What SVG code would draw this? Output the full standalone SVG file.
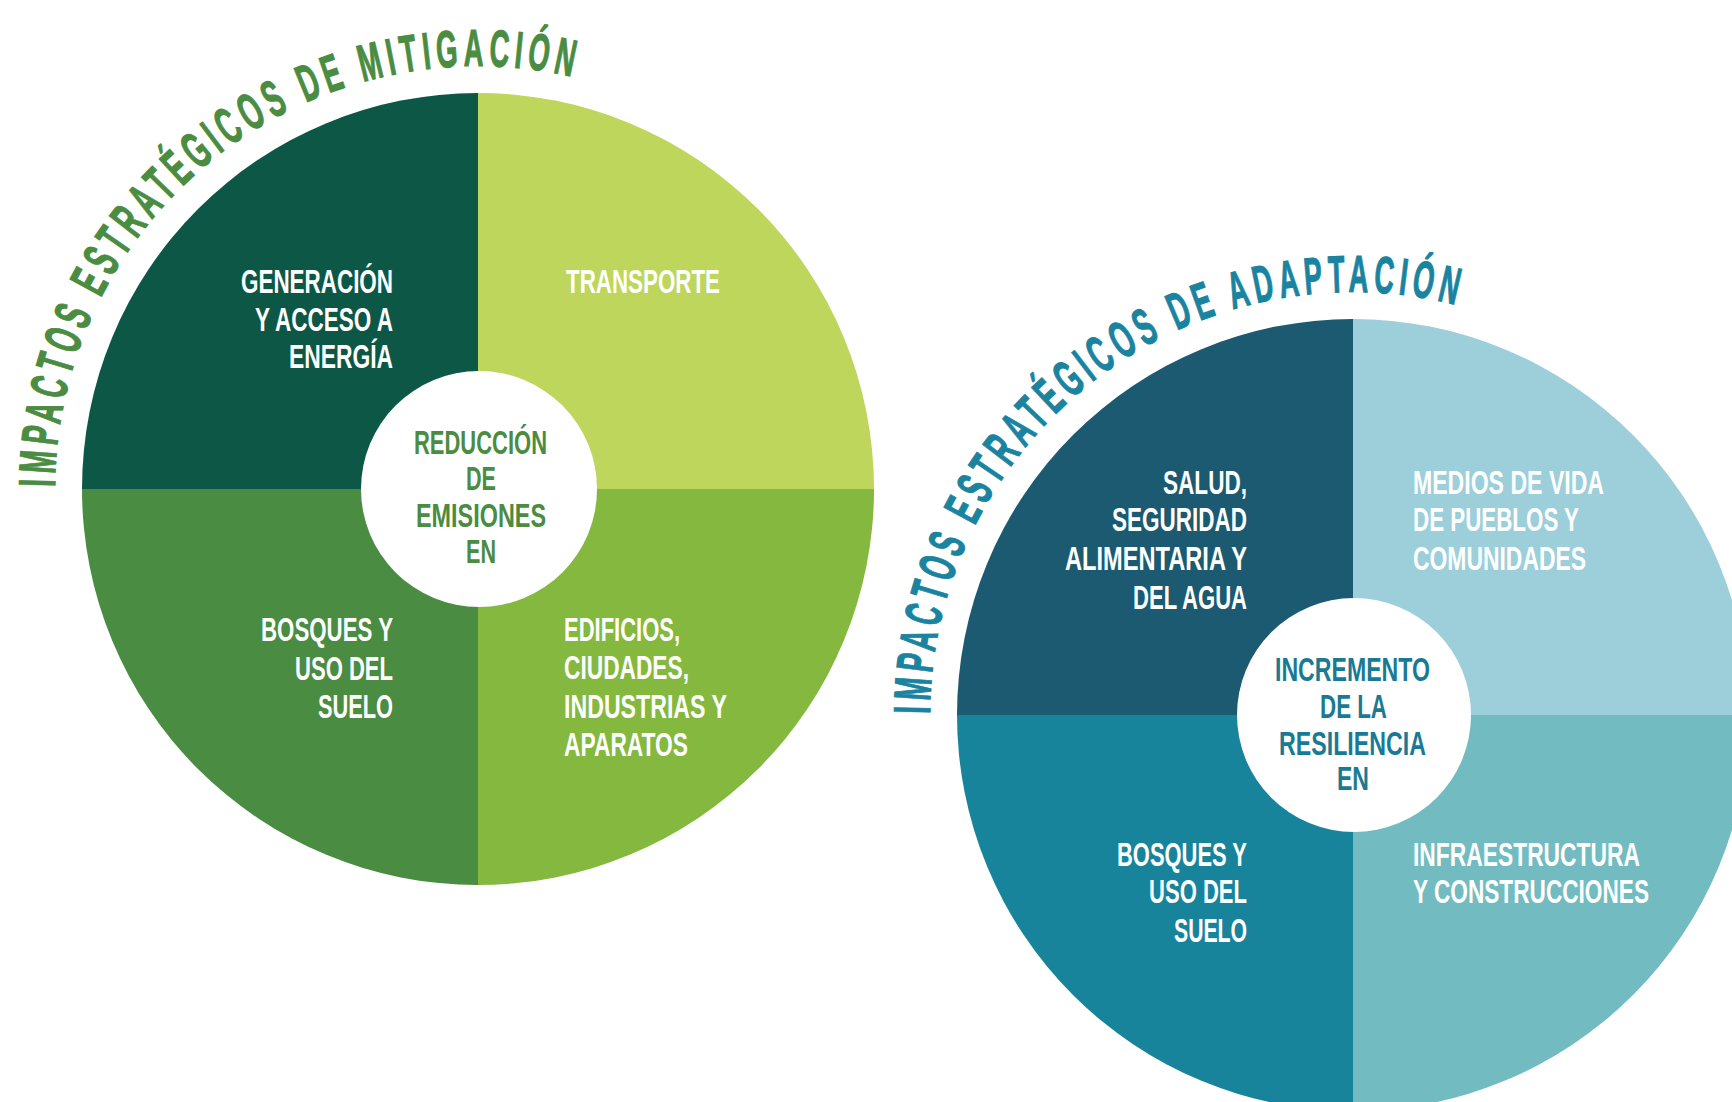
<svg xmlns="http://www.w3.org/2000/svg" width="1732" height="1102" viewBox="0 0 1732 1102">
<style>
.lbl{font-family:"Liberation Sans",Arial,sans-serif;font-weight:700;font-size:33px;fill:#ffffff}
.ttl{font-family:"Liberation Sans",Arial,sans-serif;font-weight:700;font-size:52px;letter-spacing:10px;stroke-width:1.2px}
.gc{fill:#4a8c41}
.tc{fill:#1a7a93}
.inner{fill:#ffffff}
</style>
<defs>
<path id="arcL" d="M55 489 A423 423 0 0 1 689.5 122.7"/>
<path id="arcR" d="M930 715 A423 423 0 0 1 1564.5 348.7"/>
</defs>
<rect width="1732" height="1102" fill="#ffffff"/>

<g id="mitigacion">
  <g id="title-mitigacion">
    <text class="ttl" fill="#4a8c41" stroke="#4a8c41"><textPath href="#arcL" startOffset="2" textLength="762" lengthAdjust="spacingAndGlyphs">IMPACTOS ESTRATÉGICOS DE MITIGACIÓN</textPath></text>
  </g>
  <g id="energia">
    <path d="M478 489 L82 489 A396 396 0 0 1 478 93 Z" fill="#0d5747"/>
    <text class="lbl" x="241" y="293" textLength="152" lengthAdjust="spacingAndGlyphs">GENERACIÓN</text>
    <text class="lbl" x="255" y="331" textLength="138" lengthAdjust="spacingAndGlyphs">Y ACCESO A</text>
    <text class="lbl" x="289" y="368" textLength="104" lengthAdjust="spacingAndGlyphs">ENERGÍA</text>
  </g>
  <g id="transporte">
    <path d="M478 489 L478 93 A396 396 0 0 1 874 489 Z" fill="#bdd65b"/>
    <text class="lbl" x="566" y="293" textLength="154" lengthAdjust="spacingAndGlyphs">TRANSPORTE</text>
  </g>
  <g id="edificios">
    <path d="M478 489 L874 489 A396 396 0 0 1 478 885 Z" fill="#84b83e"/>
    <text class="lbl" x="564" y="641" textLength="116" lengthAdjust="spacingAndGlyphs">EDIFICIOS,</text>
    <text class="lbl" x="564" y="679" textLength="125" lengthAdjust="spacingAndGlyphs">CIUDADES,</text>
    <text class="lbl" x="564" y="718" textLength="163" lengthAdjust="spacingAndGlyphs">INDUSTRIAS Y</text>
    <text class="lbl" x="564" y="756" textLength="124" lengthAdjust="spacingAndGlyphs">APARATOS</text>
  </g>
  <g id="bosques-mitigacion">
    <path d="M478 489 L478 885 A396 396 0 0 1 82 489 Z" fill="#4a8c41"/>
    <text class="lbl" x="261" y="641" textLength="132" lengthAdjust="spacingAndGlyphs">BOSQUES Y</text>
    <text class="lbl" x="295" y="680" textLength="98" lengthAdjust="spacingAndGlyphs">USO DEL</text>
    <text class="lbl" x="318" y="718" textLength="75" lengthAdjust="spacingAndGlyphs">SUELO</text>
  </g>
  <g id="centro-mitigacion">
    <circle class="inner" cx="479" cy="489" r="118"/>
    <text class="lbl gc" x="414" y="454" textLength="133" lengthAdjust="spacingAndGlyphs">REDUCCIÓN</text>
    <text class="lbl gc" x="466" y="490" textLength="30" lengthAdjust="spacingAndGlyphs">DE</text>
    <text class="lbl gc" x="416" y="527" textLength="130" lengthAdjust="spacingAndGlyphs">EMISIONES</text>
    <text class="lbl gc" x="466" y="563" textLength="30" lengthAdjust="spacingAndGlyphs">EN</text>
  </g>
</g>

<g id="adaptacion">
  <g id="title-adaptacion">
    <text class="ttl" fill="#1a84a0" stroke="#1a84a0"><textPath href="#arcR" startOffset="1" textLength="772" lengthAdjust="spacingAndGlyphs">IMPACTOS ESTRATÉGICOS DE ADAPTACIÓN</textPath></text>
  </g>
  <g id="salud">
    <path d="M1353 715 L957 715 A396 396 0 0 1 1353 319 Z" fill="#1b5a70"/>
    <text class="lbl" x="1163" y="494" textLength="84" lengthAdjust="spacingAndGlyphs">SALUD,</text>
    <text class="lbl" x="1112" y="531" textLength="135" lengthAdjust="spacingAndGlyphs">SEGURIDAD</text>
    <text class="lbl" x="1065" y="570" textLength="182" lengthAdjust="spacingAndGlyphs">ALIMENTARIA Y</text>
    <text class="lbl" x="1133" y="609" textLength="114" lengthAdjust="spacingAndGlyphs">DEL AGUA</text>
  </g>
  <g id="medios">
    <path d="M1353 715 L1353 319 A396 396 0 0 1 1749 715 Z" fill="#9ccfda"/>
    <text class="lbl" x="1413" y="494" textLength="191" lengthAdjust="spacingAndGlyphs">MEDIOS DE VIDA</text>
    <text class="lbl" x="1413" y="531" textLength="166" lengthAdjust="spacingAndGlyphs">DE PUEBLOS Y</text>
    <text class="lbl" x="1413" y="570" textLength="173" lengthAdjust="spacingAndGlyphs">COMUNIDADES</text>
  </g>
  <g id="infraestructura">
    <path d="M1353 715 L1749 715 A396 396 0 0 1 1353 1111 Z" fill="#72bcc1"/>
    <text class="lbl" x="1413" y="866" textLength="227" lengthAdjust="spacingAndGlyphs">INFRAESTRUCTURA</text>
    <text class="lbl" x="1413" y="903" textLength="236" lengthAdjust="spacingAndGlyphs">Y CONSTRUCCIONES</text>
  </g>
  <g id="bosques-adaptacion">
    <path d="M1353 715 L1353 1111 A396 396 0 0 1 957 715 Z" fill="#17849b"/>
    <text class="lbl" x="1117" y="866" textLength="130" lengthAdjust="spacingAndGlyphs">BOSQUES Y</text>
    <text class="lbl" x="1149" y="903" textLength="98" lengthAdjust="spacingAndGlyphs">USO DEL</text>
    <text class="lbl" x="1174" y="942" textLength="73" lengthAdjust="spacingAndGlyphs">SUELO</text>
  </g>
  <g id="centro-adaptacion">
    <circle class="inner" cx="1354" cy="715" r="117"/>
    <text class="lbl tc" x="1275" y="681" textLength="155" lengthAdjust="spacingAndGlyphs">INCREMENTO</text>
    <text class="lbl tc" x="1320" y="718" textLength="67" lengthAdjust="spacingAndGlyphs">DE LA</text>
    <text class="lbl tc" x="1279" y="755" textLength="147" lengthAdjust="spacingAndGlyphs">RESILIENCIA</text>
    <text class="lbl tc" x="1337" y="790" textLength="32" lengthAdjust="spacingAndGlyphs">EN</text>
  </g>
</g>
</svg>
